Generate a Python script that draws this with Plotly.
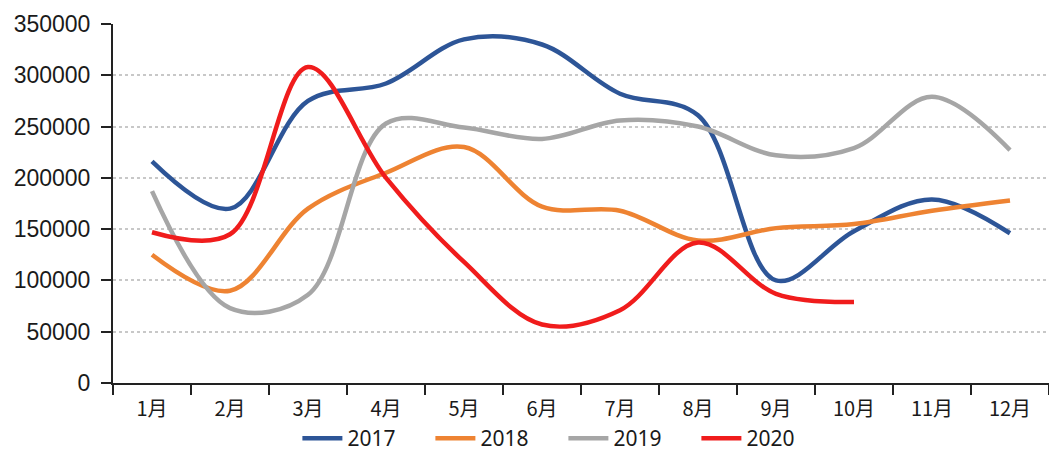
import plotly.graph_objects as go

# Monthly volumes by year
months = ["1月", "2月", "3月", "4月", "5月", "6月", "7月", "8月", "9月", "10月", "11月", "12月"]
y2017 = [216000, 170000, 275000, 292000, 335000, 330000, 282000, 261000, 100000, 148000, 179000, 146000]
y2018 = [125000, 90000, 170000, 205000, 230000, 172000, 168000, 139000, 151000, 155000, 168000, 178000]
y2019 = [187000, 73000, 86000, 253000, 249000, 238000, 256000, 250000, 222000, 229000, 279000, 227000]
y2020 = [147000, 145000, 308000, 200000, 118000, 57000, 71000, 137000, 87000, 79000]

series = [
    ("2017", y2017, "#2d5597"),
    ("2018", y2018, "#ee8332"),
    ("2019", y2019, "#a6a6a6"),
    ("2020", y2020, "#f01c1c"),
]

fig = go.Figure()
for name, vals, color in series:
    fig.add_trace(go.Scatter(
        x=months[:len(vals)], y=vals, name=name, mode="lines",
        line=dict(color=color, width=4.5, shape="spline", smoothing=1.0),
    ))

fig.update_layout(
    width=1049, height=452,
    margin=dict(l=113, r=0, t=24, b=69, autoexpand=False),
    paper_bgcolor="white", plot_bgcolor="white",
    font=dict(family="Liberation Sans, Arial, sans-serif", color="#1a1a1a"),
    showlegend=True,
    legend=dict(
        orientation="h", x=0.197, xanchor="left", y=-0.155, yanchor="middle",
        font=dict(size=21, family="Noto Sans, Liberation Sans, sans-serif"),
        entrywidth=78, entrywidthmode="pixels", itemwidth=40,
        bgcolor="rgba(0,0,0,0)",
    ),
    xaxis=dict(
        type="category", range=[-0.5, 11.5],
        showline=True, linecolor="#222", linewidth=2,
        ticks="outside", tickson="boundaries", ticklen=10, tickwidth=2, tickcolor="#222",
        showgrid=False,
        tickfont=dict(size=20, family="Noto Sans CJK SC, sans-serif"),
        ticklabelstandoff=7,
    ),
    yaxis=dict(
        range=[0, 350000], dtick=50000, tickformat="d",
        showline=True, linecolor="#222", linewidth=2,
        ticks="outside", ticklen=10, tickwidth=2, tickcolor="#222",
        showgrid=True, gridcolor="#c8c8c8", gridwidth=1.5, griddash="dot",
        zeroline=False,
        tickfont=dict(size=23),
        ticklabelstandoff=6,
    ),
)

fig.write_html("out.html")
